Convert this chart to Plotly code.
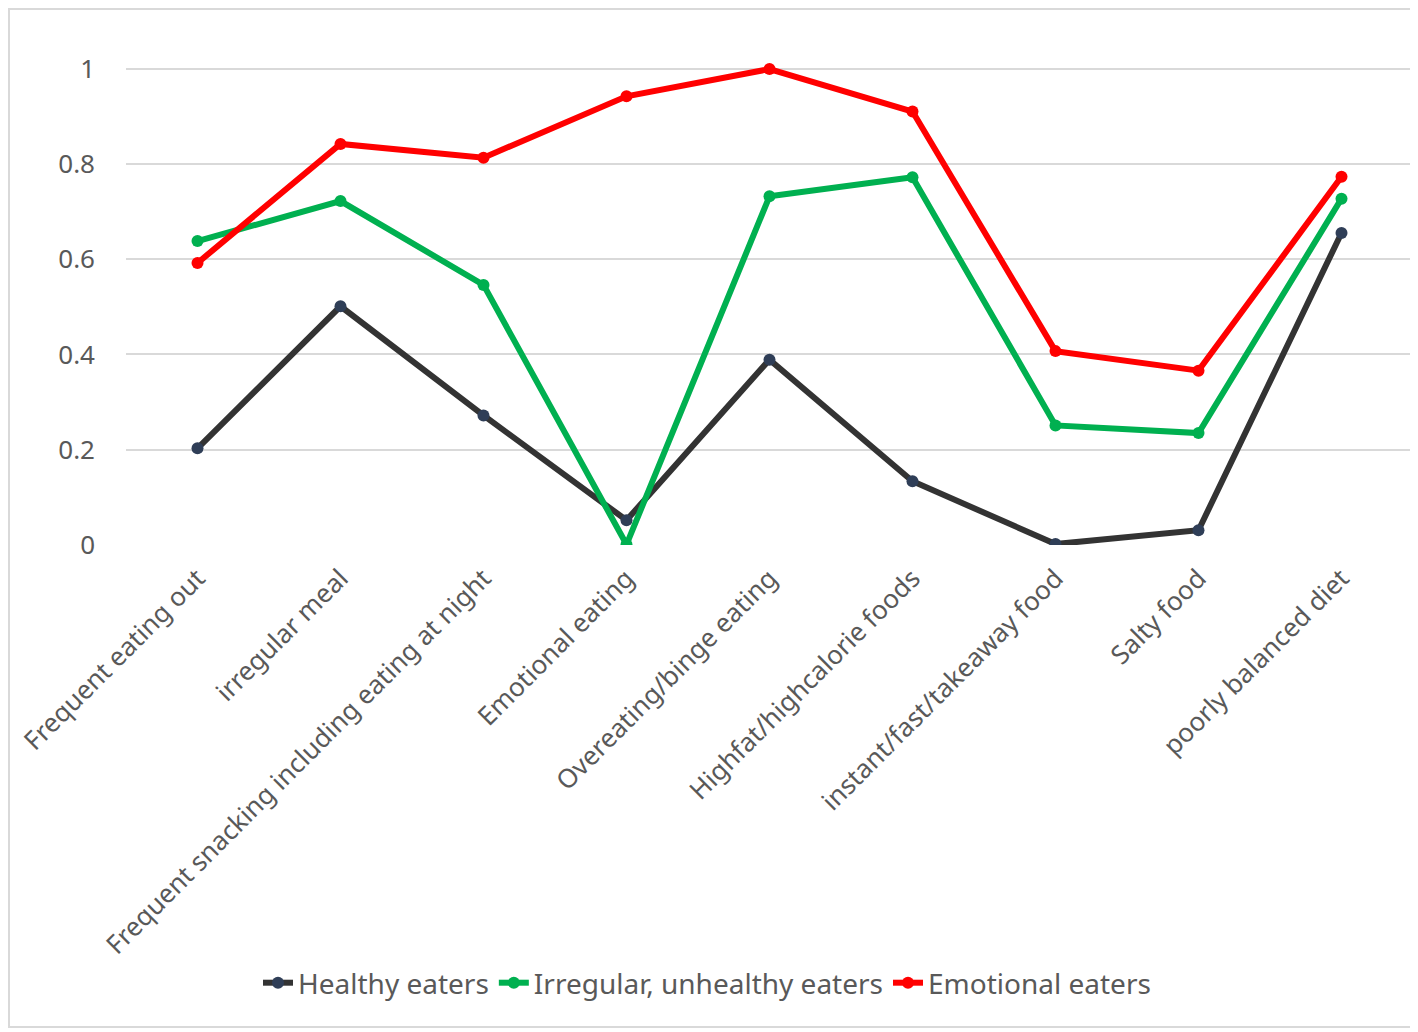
import plotly.graph_objects as go

categories = ["Frequent eating out", "irregular meal", "Frequent snacking including eating at night",
              "Emotional eating", "Overeating/binge eating", "Highfat/highcalorie foods",
              "instant/fast/takeaway food", "Salty food", "poorly balanced diet"]
healthy = [0.203, 0.501, 0.272, 0.052, 0.389, 0.134, 0.002, 0.031, 0.655]
irregular = [0.638, 0.722, 0.546, 0.001, 0.732, 0.772, 0.251, 0.235, 0.727]
emotional = [0.592, 0.842, 0.813, 0.942, 0.999, 0.910, 0.407, 0.366, 0.773]
y_ticks = [0, 0.2, 0.4, 0.6, 0.8, 1]
y_ticktext = ["0", "0.2", "0.4", "0.6", "0.8", "1"]

FONT = "Noto Sans"
TXT = "#595959"

fig = go.Figure()
series = [
    ("Healthy eaters", healthy, "#333333", "#2f3e57"),
    ("Irregular, unhealthy eaters", irregular, "#00b050", "#00b050"),
    ("Emotional eaters", emotional, "#ff0000", "#ff0000"),
]
for name, vals, lc, mc in series:
    fig.add_trace(go.Scatter(
        x=list(range(len(categories))), y=vals, name=name, mode="lines+markers",
        line=dict(color=lc, width=6), marker=dict(color=mc, size=12, line=dict(width=0)),
    ))

OFF = 8  # page body margin
W, H = 1418 - OFF, 1032 - OFF
L, T = 126 - OFF, 21 - OFF
R = W - (1413 - OFF)
B = H - (545 - OFF)
pw, ph = W - L - R, H - T - B

def px(x):
    return (x - OFF - L) / pw

def py(y):
    return (H - B - (y - OFF)) / ph

fig.update_layout(
    width=W, height=H,
    margin=dict(l=L, r=R, t=T, b=B),
    paper_bgcolor="white", plot_bgcolor="white",
    font=dict(family=FONT, color=TXT, size=26),
    showlegend=True,
    legend=dict(orientation="h", x=px(707), xanchor="center", y=py(983), yanchor="middle",
                font=dict(size=28, color=TXT), traceorder="normal",
                bgcolor="rgba(0,0,0,0)"),
    xaxis=dict(tickmode="array", tickvals=list(range(len(categories))), ticktext=categories,
               range=[-0.5, 8.5], tickangle=-45, showgrid=False, zeroline=False,
               showline=False, ticks="", tickfont=dict(size=26, color=TXT),
               ticklabelstandoff=12, ticklabeloverflow="allow"),
    yaxis=dict(range=[0, 1.1], tickvals=y_ticks, ticktext=y_ticktext, showgrid=True,
               gridcolor="#d9d9d9", gridwidth=2, zeroline=False, showline=False, ticks="",
               tickfont=dict(size=26, color=TXT), ticklabelstandoff=30),
    shapes=[dict(type="rect", xref="paper", yref="paper", x0=px(9), x1=px(1414),
                 y0=py(1027), y1=py(9), line=dict(color="#d9d9d9", width=2), layer="below")],
)
fig.write_html("out.html")
